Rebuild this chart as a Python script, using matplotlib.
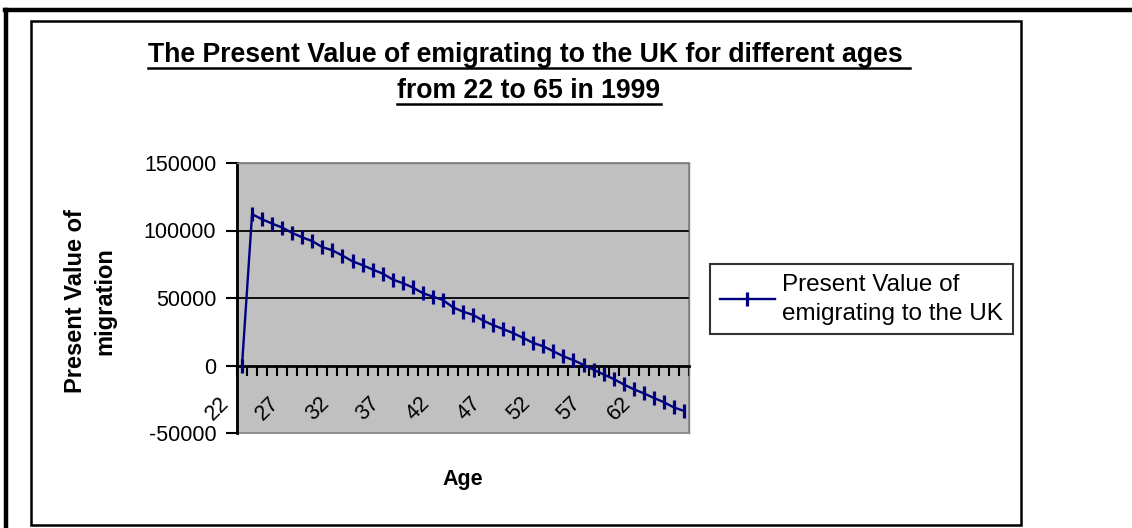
import matplotlib
matplotlib.use("Agg")
import matplotlib.pyplot as plt
from matplotlib.transforms import ScaledTranslation
from matplotlib.lines import Line2D
from matplotlib.patches import Rectangle

plt.rcParams['font.family'] = ['Liberation Sans', 'DejaVu Sans']

# ---- data ----
ages = list(range(22, 67))
pv_values = [0, 112100, 108300, 105100, 102200, 98200, 94900, 92100, 87700, 85300,
             81400, 77200, 74300, 71100, 68100, 63700, 61000, 57800, 53600, 51000,
             48500, 43100, 39900, 37500, 33300, 29900, 27000, 24000, 20400, 16700,
             14200, 10500, 6800, 3900, 500, -3200, -6600, -10000, -14000, -17600,
             -20600, -24000, -27200, -31100, -33600]
ytick_values = [-50000, 0, 50000, 100000, 150000]
grid_values = [50000, 100000]
label_every = 5
series_name = "Present Value of\nemigrating to the UK"
title_lines = ["The Present Value of emigrating to the UK for different ages ",
               "from 22 to 65 in 1999"]
ylabel = "Present Value of\nmigration"
xlabel = "Age"

W, H = 1132, 528
fig = plt.figure(figsize=(W / 100, H / 100), dpi=100)
fig.patch.set_facecolor('white')

def fx(px):
    return px / W

def fy(py):
    return 1 - py / H

# outer frame lines
fig.add_artist(Line2D([fx(5), fx(1132)], [fy(10), fy(10)], color='black', lw=3.2))
fig.add_artist(Line2D([fx(6), fx(6)], [fy(10), fy(528)], color='black', lw=3.2))
# chart area border
fig.add_artist(Rectangle((fx(31), fy(525)), fx(1021) - fx(31), fy(21) - fy(525),
                         fill=False, edgecolor='black', lw=1.8))

ax = fig.add_axes([fx(237), fy(433), fx(689) - fx(237), fy(163) - fy(433)])
ax.set_facecolor('#C0C0C0')
ax.patch.set_edgecolor('#808080')
ax.patch.set_linewidth(1.2)

x = list(range(len(ages)))
ax.hlines(grid_values, -0.5, len(ages) - 0.5, colors='black', lw=1.3, zorder=1)
line, = ax.plot(x, pv_values, color='#000080', lw=1.7, marker='|', markersize=10,
                markeredgewidth=2.3, zorder=3, label=series_name)

ax.set_xlim(-0.5, len(ages) - 0.5)
ax.set_ylim(min(ytick_values), max(ytick_values))

for s in ['top', 'right']:
    ax.spines[s].set_color('#808080')
    ax.spines[s].set_linewidth(1.0)
ax.spines['left'].set_color('black')
ax.spines['left'].set_linewidth(2.0)
ax.spines['bottom'].set_position(('data', 0))
ax.spines['bottom'].set_color('black')
ax.spines['bottom'].set_linewidth(2.0)

ax.set_yticks(ytick_values)
ax.set_yticklabels([str(v) for v in ytick_values])
ax.tick_params(axis='y', direction='out', length=8, width=1.5, pad=7, labelsize=15.5)

# category boundary tick marks
ax.set_xticks([i - 0.5 for i in range(len(ages) + 1)])
ax.set_xticklabels([])
ax.tick_params(axis='x', which='major', direction='out', length=7, width=1.5)
# category labels
lab_pos = x[::label_every]
ax.set_xticks(lab_pos, minor=True)
ax.set_xticklabels([str(a) for a in ages[::label_every]], minor=True)
ax.tick_params(axis='x', which='minor', length=0, pad=25, labelsize=15.5)
off = ScaledTranslation(-16 / 100, 0, fig.dpi_scale_trans)
for lab in ax.get_xticklabels(minor=True):
    lab.set_rotation(45)
    lab.set_rotation_mode('anchor')
    lab.set_ha('right')
    lab.set_va('center')
    lab.set_transform(lab.get_transform() + off)

# axis titles
fig.text(fx(90), fy(301), ylabel, rotation=90, ha='center', va='center',
         fontsize=17, fontweight='bold', linespacing=1.35)
fig.text(fx(463), fy(480), xlabel, ha='center', va='center', fontsize=15.5,
         fontweight='bold')

# title with underline
t1 = fig.text(fx(529), fy(55), title_lines[0], ha='center', va='center',
              fontsize=19.2, fontweight='bold')
t2 = fig.text(fx(529), fy(91), title_lines[1], ha='center', va='center',
              fontsize=19.2, fontweight='bold')
fig.canvas.draw()
r = fig.canvas.get_renderer()
for t in (t1, t2):
    bb = t.get_window_extent(renderer=r)
    yline = bb.y0 + 0.5
    fig.add_artist(Line2D([bb.x0 / W, bb.x1 / W], [yline / H, yline / H],
                          color='black', lw=1.8))

# legend
leg = ax.legend(handles=[line], loc='upper left', bbox_to_anchor=(fx(710), fy(264)),
                bbox_transform=fig.transFigure, fontsize=17.5, frameon=True,
                fancybox=False, edgecolor='black', handlelength=2.26,
                borderpad=0.4, handletextpad=0.3, borderaxespad=0)
leg.get_frame().set_linewidth(1.5)
for t in leg.get_texts():
    t.set_linespacing(1.4)

fig.savefig('out.png', dpi=100, facecolor='white')
